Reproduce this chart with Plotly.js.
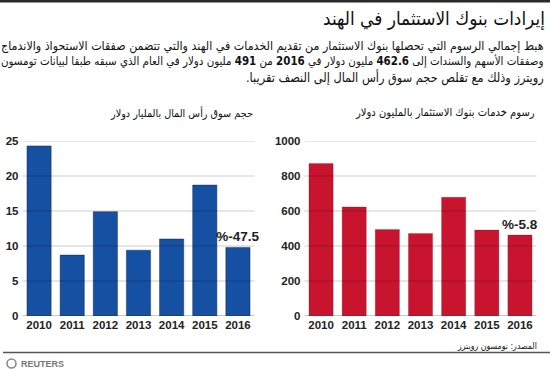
<!DOCTYPE html>
<html>
<head>
<meta charset="utf-8">
<script src="https://cdn.plot.ly/plotly-3.0.1.min.js"></script>
<style>
html,body{margin:0;padding:0;background:#fff;}
#chart{width:550px;height:372px;}
</style>
</head>
<body>
<div id="chart"></div>
<script>
// ---- data ----
var years = ['2010','2011','2012','2013','2014','2015','2016'];
var capMarket = [24.3, 8.7, 14.9, 9.4, 11.0, 18.7, 9.8];       // billion USD
var fees = [872, 623, 495, 472, 678, 491, 462.6];               // million USD
var leftTicks = [0, 5, 10, 15, 20, 25];
var rightTicks = [0, 200, 400, 600, 800, 1000];
var capLabels = ['', '', '', '', '', '', '%-47.5'];
var feeLabels = ['', '', '', '', '', '', '%-5.8'];

var titleText = 'إيرادات بنوك الاستثمار في الهند';
var subLines = [
  'هبط إجمالي الرسوم التي تحصلها بنوك الاستثمار من تقديم الخدمات في الهند والتي تتضمن صفقات الاستحواذ والاندماج',
  'وصفقات الأسهم والسندات إلى <b>462.6</b> مليون دولار في <b>2016</b> من <b>491</b> مليون دولار في العام الذي سبقه طبقا لبيانات تومسون',
  'رويترز وذلك مع تقلص حجم سوق رأس المال إلى النصف تقريبا.'
];
var leftTitle = 'حجم سوق رأس المال بالمليار دولار';
var rightTitle = 'رسوم خدمات بنوك الاستثمار بالمليون دولار';
var sourceText = 'المصدر: تومسون رويترز';

// ---- helpers ----
var W = 550, H = 372;
function px(x){ return x / W; }
function py(y){ return 1 - y / H; }
function rtl(s){ return '\u202B' + s + '\u202C'; }
var FONT = 'Arial, Liberation Sans, DejaVu Sans, sans-serif';
var AFONT = 'DejaVu Sans Condensed, Arial, DejaVu Sans, sans-serif';

var blue = '#1550a3', red = '#c8142f';
var labelFont = {family:FONT, size:13.5, color:'#222', weight:'bold'};

var traces = [
  {type:'bar', x: years, y: capMarket, xaxis:'x', yaxis:'y',
   text: capLabels, textposition:'outside', constraintext:'none', cliponaxis:false, textfont: labelFont,
   marker:{color: blue, line:{color:'rgba(20,30,60,0.55)', width:0.8}}, hoverinfo:'none'},
  {type:'bar', x: years, y: fees, xaxis:'x2', yaxis:'y2',
   text: feeLabels, textposition:'outside', constraintext:'none', cliponaxis:false, textfont: labelFont,
   marker:{color: red, line:{color:'rgba(90,10,20,0.35)', width:0.6}}, hoverinfo:'none'}
];

var yDom = [56/H, 231/H];
var axX = {type:'category', range:[-0.5, 6.5], showgrid:false, zeroline:false, showline:false,
  ticks:'', tickfont:{family:FONT, size:11.5, color:'#222', weight:'bold'}, fixedrange:true};
var axY = {showgrid:false, zeroline:false, showline:false, ticks:'', tickmode:'array',
  tickfont:{family:FONT, size:11.5, color:'#222', weight:'bold'}, ticklabelstandoff:3, fixedrange:true};

var shapes = [];
shapes.push({type:'rect', xref:'paper', yref:'paper', x0:0, x1:1, y0:py(2.5), y1:1, fillcolor:'#2a2a2a', line:{width:0}});
shapes.push({type:'line', xref:'paper', yref:'paper', x0:px(3), x1:1, y0:py(352.5), y1:py(352.5), line:{color:'#555', width:1.5}});
function grid(xref, yref, ticks){
  ticks.forEach(function(v, i){
    shapes.push({type:'line', xref: xref + ' domain', yref: yref, x0:0, x1:1, y0:v, y1:v, layer:'above',
      line:{color: i === 0 ? 'rgba(60,60,60,0.55)' : 'rgba(0,0,0,0.2)', width: i === 0 ? 1.2 : 1}});
  });
}
grid('x', 'y', leftTicks);
grid('x2', 'y2', rightTicks);
shapes.push({type:'circle', xref:'paper', yref:'paper', x0:px(7), x1:px(16), y0:py(368), y1:py(359),
  line:{color:'#8a8a8a', width:1.6}, fillcolor:'rgba(0,0,0,0)'});

// text items: [text, rightX, centerY, startSize, targetWidth]
var textItems = [
  [titleText, 547, 19, 19, 222],
  [subLines[0], 546, 46, 12, 543],
  [subLines[1], 546, 62, 12, 543],
  [subLines[2], 546, 77.5, 12, 298],
  [leftTitle, 255, 113, 11, 143],
  [rightTitle, 537, 113, 11, 180],
  [sourceText, 539, 345.5, 10, 80]
];
var ann = textItems.map(function(it){
  return {xref:'paper', yref:'paper', x:px(it[1]), y:py(it[2]), xanchor:'right', yanchor:'middle', showarrow:false,
    text: rtl(it[0]), font:{family:AFONT, size:it[3], color:'#111'}};
});
ann.push({xref:'paper', yref:'paper', x:px(19), y:py(363.5), xanchor:'left', yanchor:'middle', showarrow:false,
  text: 'REUTERS', font:{family:FONT, size:9, color:'#777', weight:'bold'}});

var layout = {
  width: W, height: H, margin:{l:0, r:0, t:0, b:0}, paper_bgcolor:'#fff', plot_bgcolor:'rgba(0,0,0,0)',
  showlegend:false, bargap:0.27,
  xaxis: Object.assign({}, axX, {domain:[px(22.5), px(254.5)], anchor:'y'}),
  yaxis: Object.assign({}, axY, {domain:yDom, range:[0, 25], tickvals:leftTicks, anchor:'x'}),
  xaxis2: Object.assign({}, axX, {domain:[px(304.5), px(536.5)], anchor:'y2'}),
  yaxis2: Object.assign({}, axY, {domain:yDom, range:[0, 1000], tickvals:rightTicks, anchor:'x2'}),
  shapes: shapes, annotations: ann
};

Plotly.newPlot('chart', traces, layout, {staticPlot:true, displayModeBar:false}).then(function(gd){
  // fit the Arabic text lines to the widths measured on the reference
  var upd = {};
  var groups = gd.querySelectorAll('.annotation');
  groups.forEach(function(g){
    var idx = +g.getAttribute('data-index');
    if (idx >= textItems.length) return;
    var t = g.querySelector('.annotation-text');
    if (!t) return;
    var w = t.getBBox().width;
    if (w > 0) upd['annotations[' + idx + '].font.size'] = textItems[idx][3] * textItems[idx][4] / w;
  });
  return Plotly.relayout(gd, upd);
});
</script>
</body>
</html>
